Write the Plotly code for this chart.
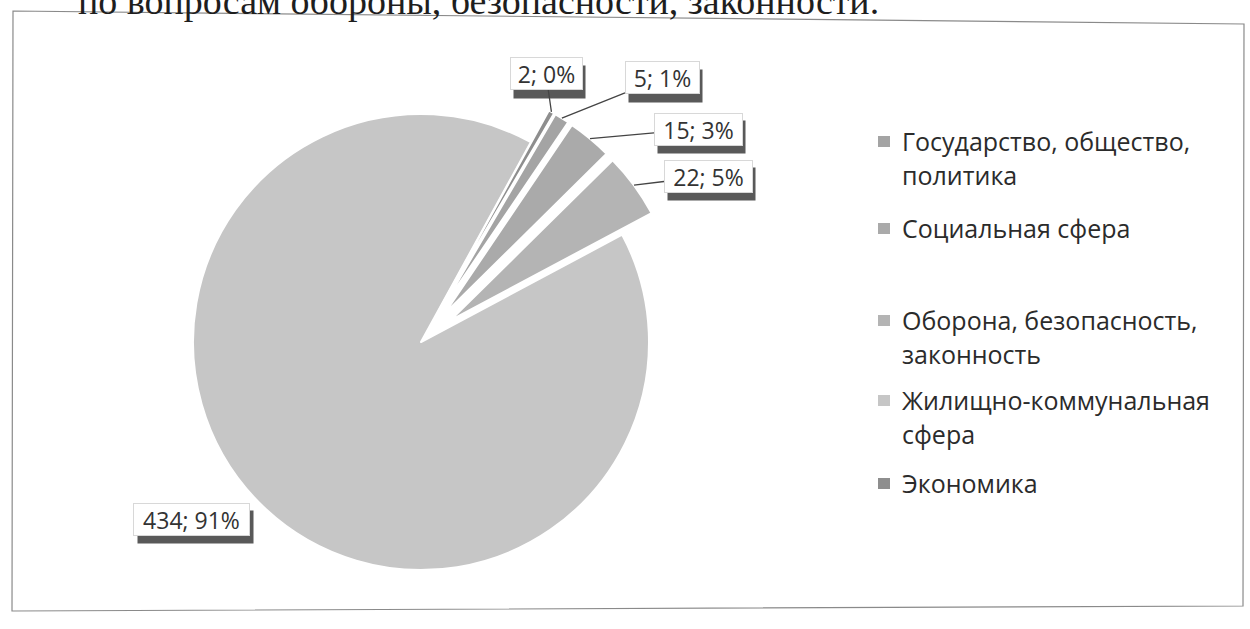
import math
import plotly.graph_objects as go

# ---- data ----
labels = ["Государство, общество, политика", "Социальная сфера",
          "Оборона, безопасность, законность", "Жилищно-коммунальная сфера", "Экономика"]
legend_lines = [["Государство, общество,", "политика"], ["Социальная сфера"],
                ["Оборона, безопасность,", "законность"], ["Жилищно-коммунальная", "сфера"],
                ["Экономика"]]
values = [5, 15, 22, 434, 2]
colors = ["#a4a4a4", "#aaaaaa", "#b4b4b4", "#c6c6c6", "#8e8e8e"]
pulls = [0.16, 0.16, 0.16, 0.0, 0.16]
heading = "по вопросам обороны, безопасности, законности."

# ---- layout constants (pixels) ----
W, H = 1250, 629
CX, CY, R = 421, 342, 228
ROT = 30.3
maxpull = max(pulls)
half = R * (1 + maxpull)

def px(x):
    return x / W

def py(y):
    return 1 - y / H

fig = go.Figure(go.Pie(
    labels=labels, values=values, sort=False, direction="clockwise",
    rotation=ROT, pull=pulls, textinfo="none", hoverinfo="label+value+percent",
    marker=dict(colors=colors, line=dict(color="white", width=2)),
    domain=dict(x=[px(CX - half), px(CX + half)], y=[py(CY + half), py(CY - half)]),
    showlegend=False,
))

# data labels (box centres and box widths in pixels)
label_pos = [(662, 78), (698, 129), (708, 176), (192, 519), (546, 74)]
label_w = [75, 89, 89, 117, 73]
BOX_H = 33
with_line = [True, True, True, False, True]
total = sum(values)
annotations = []
shapes = []
cum = 0
tips = []
for v, p in zip(values, pulls):
    mid = math.radians(ROT + 360 * (cum + v / 2) / total)
    cum += v
    d = (1 + p) * R
    tips.append((CX + d * math.sin(mid), CY - d * math.cos(mid)))

FS = 23
lab_font = dict(family="Open Sans", size=FS, color="#333333")
for i, v in enumerate(values):
    lx, ly = label_pos[i]
    w = label_w[i]
    # soft shadow under the label box
    shapes.append(dict(type="rect", xref="paper", yref="paper", layer="above",
                       x0=px(lx - w / 2 + 4), x1=px(lx + w / 2 + 3),
                       y0=py(ly + BOX_H / 2 + 8), y1=py(ly - BOX_H / 2 + 8),
                       fillcolor="rgba(60,60,60,0.85)", line=dict(width=0)))
for i, v in enumerate(values):
    txt = f"{v}; {round(100 * v / total)}%"
    lx, ly = label_pos[i]
    common = dict(xref="paper", yref="paper", xanchor="center", yanchor="middle",
                  text=txt, font=lab_font, bgcolor="white", bordercolor="#d8d8d8",
                  borderwidth=1, borderpad=0, width=label_w[i] - 2, height=BOX_H - 2)
    if with_line[i]:
        tx, ty = tips[i]
        annotations.append(dict(x=px(tx), y=py(ty), ax=lx - tx, ay=ly - ty,
                                axref="pixel", ayref="pixel", showarrow=True, arrowhead=0,
                                arrowwidth=1.3, arrowcolor="#444444", standoff=0, **common))
    else:
        annotations.append(dict(x=px(lx), y=py(ly), showarrow=False, **common))

# manual legend
first_line_y = [141, 228, 320, 400, 483]
line_gap = 34
for i, lines in enumerate(legend_lines):
    y0 = first_line_y[i]
    shapes.append(dict(type="rect", xref="paper", yref="paper",
                       x0=px(878), x1=px(890), y0=py(y0 - 5), y1=py(y0 + 6),
                       fillcolor=colors[i], line=dict(width=0)))
    for k, t in enumerate(lines):
        annotations.append(dict(x=px(900), y=py(y0 + k * line_gap), xref="paper", yref="paper",
                                xanchor="left", yanchor="middle", text=t, showarrow=False,
                                font=dict(family="Open Sans", size=25, color="#2b2b2b")))

# chart border
shapes.append(dict(type="path", xref="paper", yref="paper",
                   path=f"M{px(13)},{py(11)} L{px(1244)},{py(24)} L{px(1243)},{py(606)} L{px(12)},{py(611)} Z",
                   line=dict(color="#8a8a8a", width=1.2), fillcolor="rgba(0,0,0,0)", layer="below"))

# heading fragment cut at top
annotations.append(dict(x=px(76), y=1, xref="paper", yref="paper", xanchor="left", yanchor="middle",
                        yshift=-1, text=heading, showarrow=False,
                        font=dict(family="Liberation Serif", size=38, color="#1e1e1e")))

fig.update_layout(width=W, height=H, margin=dict(l=0, r=0, t=0, b=0),
                  paper_bgcolor="white", plot_bgcolor="white",
                  annotations=annotations, shapes=shapes)
fig.write_html("out.html", config={"displayModeBar": False},
               post_script="document.body.style.margin='0';")
